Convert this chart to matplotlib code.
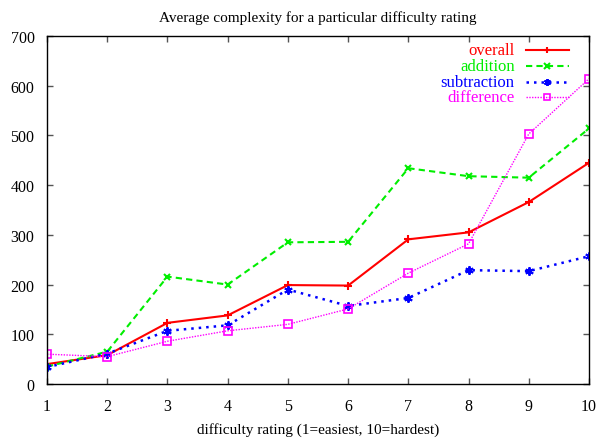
import numpy as np
import matplotlib
matplotlib.use('Agg')
import matplotlib.pyplot as plt
from matplotlib.lines import Line2D

# difficulty rating vs average complexity
rating = [1, 2, 3, 4, 5, 6, 7, 8, 9, 10]
overall = [40, 58, 123, 138, 199, 198, 291, 305, 366, 445]
addition = [35, 65, 216, 200, 285, 286, 434, 418, 415, 514]
subtraction = [34, 61, 107, 118, 190, 157, 173, 229, 227, 257]
difference = [60, 55, 86, 107, 120, 151, 223, 282, 503, 614]

plt.rcParams['font.family'] = ['Liberation Serif', 'DejaVu Serif']
plt.rcParams['font.size'] = 11

fig = plt.figure(figsize=(5.98, 4.39), dpi=100)
ax = fig.add_axes([47/598, 1 - 385/439, 542/598, 348/439])

styles = [
    ('overall', overall, dict(color='#ff0000', ls='-', lw=1.5, marker='+', ms=6, mew=1.5)),
    ('addition', addition, dict(color='#00ee00', ls=(0, (3, 2)), lw=1.5, marker='x', ms=5, mew=1.5)),
    ('subtraction', subtraction, dict(color='#0000ff', ls=(0, (1, 2)), lw=1.8, marker=(6, 2, 0), ms=6, mew=1.4)),
    ('difference', difference, dict(color='#ff00ff', ls=(0, (1, 1)), lw=1.0, marker='s', ms=6, mfc='none', mew=1.2)),
]

for label, vals, st in styles:
    ax.plot(rating, vals, **st)

# gnuplot-like key: right-aligned coloured text, line sample on the right
row_y = [0.9606, 0.9147, 0.8687, 0.8239]
for (label, vals, st), yy in zip(styles, row_y):
    ax.text(0.863, yy, label, color=st['color'], ha='right', va='center',
            transform=ax.transAxes, fontsize=12)
    ax.add_line(Line2D([0.883, 0.9636], [yy, yy], transform=ax.transAxes, clip_on=False,
                       **{k: v for k, v in st.items() if k != 'marker'}, marker=None))
    key_st = {k: v for k, v in st.items() if k not in ('ls', 'lw', 'ms')}
    ax.add_line(Line2D([0.922], [yy], transform=ax.transAxes, clip_on=False,
                       **key_st, ls='none', ms=st['ms'] - 1))

ax.set_xlim(1, 10)
ax.set_ylim(0, 700)
ax.set_xticks(rating)
ax.set_yticks(np.arange(0, 701, 100))
ax.tick_params(direction='in', length=4, width=1, top=True, right=True, labelsize=11.5,
               color='#555555')
ax.tick_params(axis='x', pad=10)
ax.tick_params(axis='y', pad=9)
for s in ax.spines.values():
    s.set_linewidth(1)

ax.set_title('Average complexity for a particular difficulty rating', fontsize=11, pad=11)
ax.set_xlabel('difficulty rating (1=easiest, 10=hardest)', fontsize=11, labelpad=6)

fig.savefig('out.png', dpi=100)
